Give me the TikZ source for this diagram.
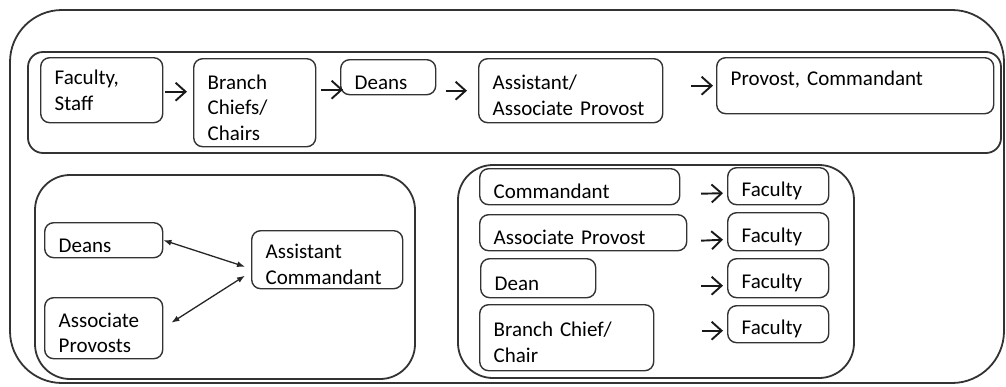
\documentclass[tikz,border=0pt]{standalone}
\usepackage{fontspec}
\setmainfont{Carlito}
\usetikzlibrary{arrows.meta,calc}
\begin{document}
\begin{tikzpicture}[x=1pt,y=-1pt,
  line color/.style={draw=black!80},
  group/.style={line color,line width=1.8pt},
  box/.style 2 args={line color,line width=1.4pt,rounded corners=9pt,
    anchor=north west,inner xsep=14pt,inner ysep=0pt,
    text width={#1-28pt},minimum height=#2,align=left,
    font=\fontsize{21}{25.5}\selectfont},
  % a tall invisible strut on the first line moves the text down a little
  lower/.style={execute at begin node={\rule{0pt}{24pt}}},
  arr/.style={black!90,line width=1.9pt,-{Straight Barb[length=10pt,width=18pt]}},
  biarr/.style={black!85,line width=1.3pt,{Latex[length=8pt,width=6pt]}-{Latex[length=8pt,width=6pt]}}]
\useasboundingbox (0,0) rectangle (1006,386);

% frames
\draw[group,rounded corners=52pt] (10,10) rectangle (1004,383);
\draw[group,rounded corners=15pt] (28,52) rectangle (1001,153);
\draw[group,rounded corners=35pt] (35,175) rectangle (415,379);
\draw[group,rounded corners=35pt] (458,165) rectangle (854,378);

% approval chain
\node[box={122pt}{65pt}] (fs) at (40,57) {Faculty,\\Staff};
\node[box={122pt}{88pt},lower] (bc) at (193,58) {Branch\\Chiefs/\\Chairs};
\node[box={95pt}{35pt},lower] (dn) at (340,59) {Deans};
\node[box={184pt}{64pt},lower] (aap) at (478,58) {Assistant/\\\mbox{Associate Provost}};
\node[box={277pt}{56pt},lower,text depth=24pt] (pc) at (716,57) {Provost, Commandant};

\draw[arr] ($(fs.east)+(2,1.5)$) -- ($(fs.east -| bc.west)+(-6,1.5)$);
\draw[arr] ($(bc.east)+(5,-13)$) -- ($(bc.east -| dn.west)+(3,-13)$);
\draw[arr] ($(dn.east)+(10,13.5)$) -- ($(dn.east -| aap.west)+(-11,13.5)$);
\draw[arr] ($(pc.west -| aap.east)+(28,0)$) -- ($(pc.west)+(-3,0)$);

% coordination
\node[box={118pt}{35pt},lower] (dn2) at (44,222) {Deans};
\node[box={118pt}{61pt},lower] (ap2) at (44,297) {Associate\\Provosts};
\node[box={151pt}{58pt},lower] (ac) at (251,230) {Assistant\\Commandant};

\draw[biarr] (dn2.east) -- ($(ac.west)+(-6,7)$);
\draw[biarr] ($(ap2.east)+(8,-5.5)$) -- ($(ac.west)+(-6,16)$);

% direct reports
\node[box={200pt}{36pt},lower] (cm) at (479,168) {Commandant};
\node[box={207pt}{36pt},lower] (apv) at (479,214) {\mbox{Associate Provost}};
\node[box={115pt}{39pt},lower] (dean) at (480,258) {Dean};
\node[box={174pt}{66pt},lower] (bcc) at (479,304) {Branch Chief/\\Chair};
\node[box={101pt}{37pt},lower] (f1) at (727,167) {Faculty};
\node[box={101pt}{38pt},lower] (f2) at (727,212) {Faculty};
\node[box={101pt}{39pt},lower] (f3) at (727,258) {Faculty};
\node[box={101pt}{37pt},lower] (f4) at (727,305) {Faculty};

\draw[arr] ($(cm.east -| f1.west)+(-26,7)$) -- ($(f1.west)+(-4,7)$);
\draw[arr] ($(apv.east -| f2.west)+(-26,8)$) -- ($(f2.west)+(-4,8)$);
\draw[arr] ($(dean.east -| f3.west)+(-26,7.5)$) -- ($(f3.west)+(-4,7.5)$);
\draw[arr] ($(bcc.east |- f4.west)+(48,6.5)$) -- ($(f4.west)+(-4,6.5)$);
\end{tikzpicture}
\end{document}
